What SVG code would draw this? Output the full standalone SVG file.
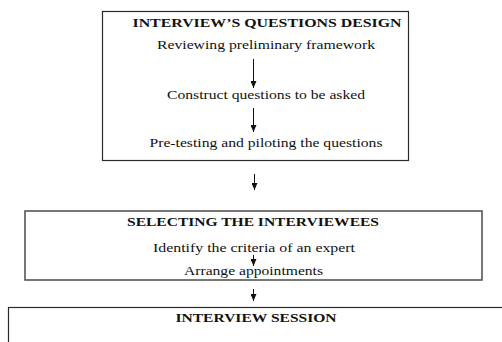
<svg xmlns="http://www.w3.org/2000/svg" width="502" height="342" viewBox="0 0 502 342">
<style>
.box{fill:#fff;stroke:#2a2a2a;stroke-width:1.2}
.box2{fill:#fff;stroke:#555;stroke-width:1.6}
.t{font-family:"Liberation Serif","Times New Roman","DejaVu Serif",serif;font-size:11.5px;fill:#111;text-anchor:middle}
.h{font-weight:bold}
.c{stroke:#111;stroke-width:1;fill:none;marker-end:url(#ah)}
</style>
<defs>
<marker id="ah" viewBox="0 0 7 6" refX="7" refY="3" markerWidth="7" markerHeight="6" markerUnits="userSpaceOnUse" orient="auto">
<path d="M0,0 L7,3 L0,6 Z" fill="#111"/>
</marker>
</defs>
<rect width="502" height="342" fill="#fff"/>
<g id="node-design">
<rect class="box" x="102.5" y="11.5" width="306" height="149"/>
<text class="t h" x="267" y="27" textLength="269" lengthAdjust="spacingAndGlyphs">INTERVIEW’S QUESTIONS DESIGN</text>
<text class="t" x="266" y="49" textLength="218" lengthAdjust="spacingAndGlyphs">Reviewing preliminary framework</text>
<text class="t" x="266" y="99" textLength="198" lengthAdjust="spacingAndGlyphs">Construct questions to be asked</text>
<text class="t" x="266" y="147" textLength="233" lengthAdjust="spacingAndGlyphs">Pre-testing and piloting the questions</text>
</g>
<g id="node-selecting">
<rect class="box2" x="25" y="211" width="457" height="69"/>
<text class="t h" x="253" y="226" textLength="252" lengthAdjust="spacingAndGlyphs">SELECTING THE INTERVIEWEES</text>
<text class="t" x="254" y="252" textLength="202" lengthAdjust="spacingAndGlyphs">Identify the criteria of an expert</text>
<text class="t" x="253.5" y="275" textLength="139" lengthAdjust="spacingAndGlyphs">Arrange appointments</text>
</g>
<g id="node-session">
<rect class="box" x="8.5" y="307.5" width="500" height="50"/>
<text class="t h" x="256" y="322" textLength="161" lengthAdjust="spacingAndGlyphs">INTERVIEW SESSION</text>
</g>
<g id="connectors">
<line class="c" x1="253.5" y1="59" x2="253.5" y2="88"/>
<line class="c" x1="253.5" y1="108" x2="253.5" y2="132"/>
<line class="c" x1="254.5" y1="174" x2="254.5" y2="190"/>
<line class="c" x1="253.5" y1="255" x2="253.5" y2="266"/>
<line class="c" x1="253.5" y1="289" x2="253.5" y2="301"/>
</g>
</svg>
